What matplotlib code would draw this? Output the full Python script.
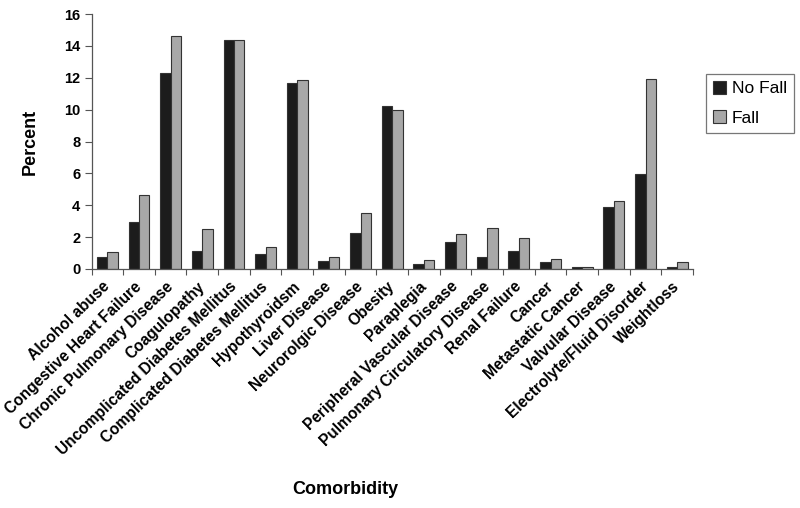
import matplotlib
matplotlib.use("Agg")
import matplotlib.pyplot as plt
import matplotlib.transforms as mtransforms
import numpy as np

# comorbidity categories (typos kept as in the original figure)
categories = ["Alcohol abuse", "Congestive Heart Failure", "Chronic Pulmonary Disease",
              "Coagulopathy", "Uncomplicated Diabetes Mellitus", "Complicated Diabetes Mellitus",
              "Hypothyroidsm", "Liver Disease", "Neurorolgic Disease", "Obesity", "Paraplegia",
              "Peripheral Vascular Disease", "Pulmonary Circulatory Disease", "Renal Failure",
              "Cancer", "Metastatic Cancer", "Valvular Disease", "Electrolyte/Fluid Disorder",
              "Weightloss"]
no_fall = [0.73, 2.97, 12.3, 1.13, 14.4, 0.94, 11.65, 0.52, 2.24, 10.23, 0.29,
           1.67, 0.73, 1.13, 0.46, 0.15, 3.87, 5.98, 0.15]
fall = [1.09, 4.64, 14.62, 2.49, 14.4, 1.36, 11.84, 0.77, 3.53, 9.97, 0.54,
        2.18, 2.55, 1.92, 0.63, 0.15, 4.27, 11.92, 0.46]
series_names = ["No Fall", "Fall"]
yticks = [0, 2, 4, 6, 8, 10, 12, 14, 16]

plt.rcParams['font.family'] = ['Liberation Sans', 'DejaVu Sans']

fig = plt.figure(figsize=(8, 5.08), dpi=100)
ax = fig.add_axes([91.5/800, 1-269/508, (693-91.5)/800, (269-14)/508])

x = np.arange(len(categories)) + 0.5
w = 0.33
b1 = ax.bar(x - w/2, no_fall, w, color='#1c1c1c', edgecolor='#333333', linewidth=0.8, label=series_names[0])
b2 = ax.bar(x + w/2, fall, w, color='#a8a8a8', edgecolor='#333333', linewidth=0.8, label=series_names[1])

ax.set_xlim(0, len(categories))
ax.set_ylim(0, 16)
ax.set_yticks(yticks)
ax.set_yticklabels([str(t) for t in yticks], fontsize=10.5, fontweight='bold')

# boundary ticks on x, labels at category centres
ax.set_xticks(np.arange(len(categories) + 1))
ax.set_xticklabels([])
ax.set_xticks(x, minor=True)
ax.set_xticklabels(categories, minor=True, rotation=44, ha='right', va='center',
                   rotation_mode='anchor', fontsize=11.2, fontweight='bold')
shift = mtransforms.ScaledTranslation(3/100, 0, fig.dpi_scale_trans)
for lbl in ax.get_xticklabels(minor=True):
    lbl.set_transform(lbl.get_transform() + shift)
ax.tick_params(axis='x', which='minor', length=0, pad=11)
ax.tick_params(axis='x', which='major', length=4, direction='out', color='#555555')
ax.tick_params(axis='y', length=5, direction='out', color='#555555', pad=3)

for s in ['top', 'right']:
    ax.spines[s].set_visible(False)
for s in ['left', 'bottom']:
    ax.spines[s].set_color('#555555')
    ax.spines[s].set_linewidth(0.9)

ax.set_ylabel("Percent", fontsize=13, fontweight='bold', labelpad=18)
fig.text(345/800, 1-490/508, "Comorbidity", fontsize=13, fontweight='bold', ha='center', va='center')

leg = fig.legend(handles=[b1, b2], loc='upper left', bbox_to_anchor=(706/800, 1-74/508),
                 fontsize=12.5, frameon=True, fancybox=False, edgecolor='#555555',
                 handlelength=0.75, handleheight=0.75, handletextpad=0.35,
                 borderpad=0.4, labelspacing=0.8, borderaxespad=0)
leg.get_frame().set_linewidth(0.9)

fig.savefig("out.png", dpi=100)
